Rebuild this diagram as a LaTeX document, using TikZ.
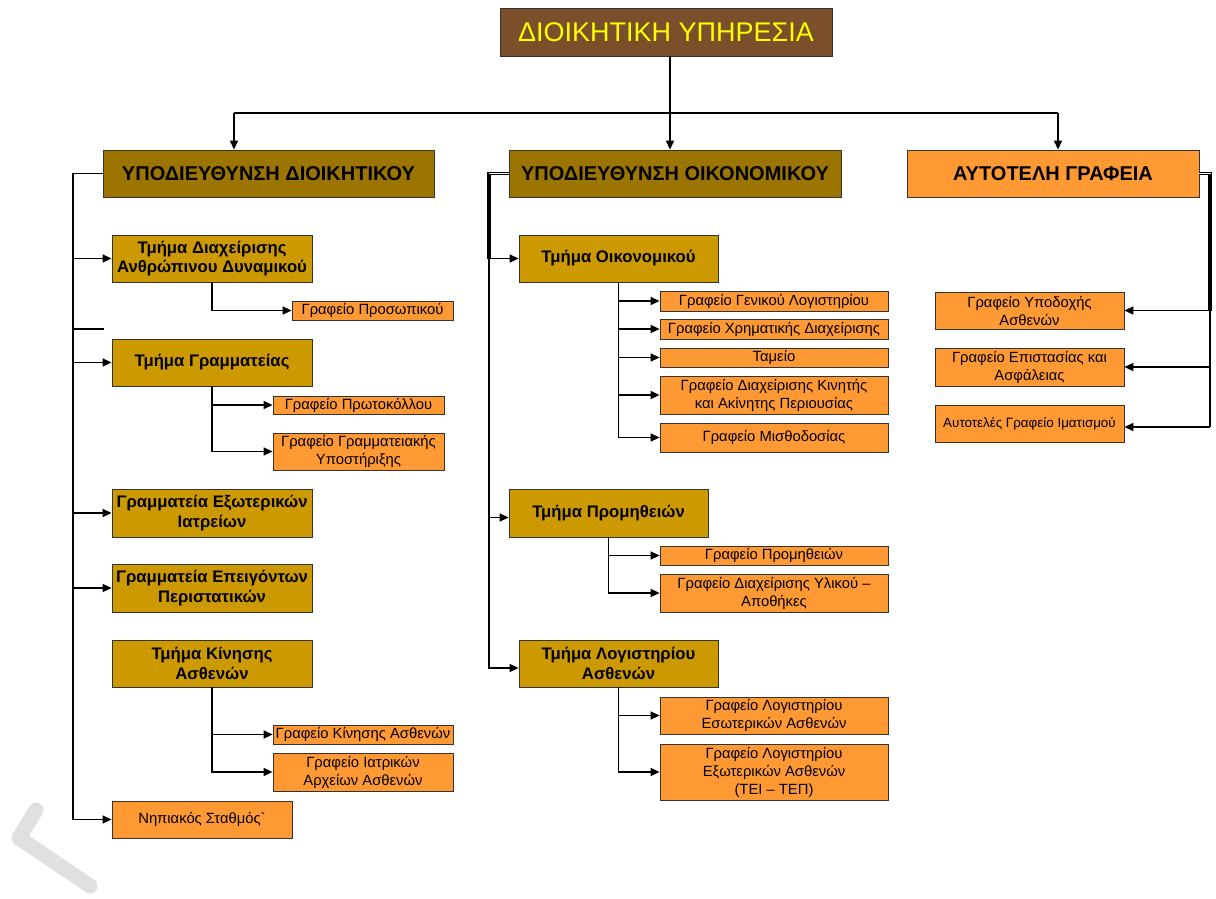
\documentclass[tikz,border=0pt]{standalone}
\usepackage{fontspec}
\setmainfont{Liberation Sans}
\usepackage{xcolor}
\usepackage{tikz}
\usetikzlibrary{shapes,arrows.meta,positioning}

\definecolor{headbrown}{HTML}{7A4F2A}
\definecolor{headyellow}{HTML}{FFFF00}
\definecolor{subgold}{HTML}{9C7400}
\definecolor{deptgold}{HTML}{CC9900}
\definecolor{officeorange}{HTML}{FF9933}
\definecolor{linegray}{HTML}{333333}

\begin{document}
\begin{tikzpicture}[
  x=1pt, y=-1pt,
  head/.style={rectangle, draw=linegray, fill=headbrown, text=headyellow, inner sep=0pt, minimum width=332pt, minimum height=48pt, font=\fontsize{27}{32}\selectfont},
  subdir/.style={rectangle, draw=linegray, line width=0.8pt, fill=subgold, inner sep=0pt, minimum width=331pt, minimum height=47pt, font=\bfseries\fontsize{20}{24}\selectfont},
  dept/.style={rectangle, draw=linegray, line width=0.8pt, fill=deptgold, inner sep=0pt, align=center, minimum width=200pt, minimum height=47pt, font=\bfseries\fontsize{16.7}{19.5}\selectfont},
  office/.style={rectangle, draw=linegray, line width=0.8pt, fill=officeorange, inner sep=0pt, align=center, font=\fontsize{14.8}{18}\selectfont},
  link/.style={line width=1.4pt},
  arrow/.style={line width=1.4pt, -{Triangle[length=9pt,width=8pt]}}
]
\useasboundingbox (0,0) rectangle (1216,899);

% Watermark
\draw [black!12, line width=15pt, line join=round, line cap=round] (36,810) -- (19,838) -- (90,886);

% Head
\node (admin) [head] at (666,32) {ΔΙΟΙΚΗΤΙΚΗ ΥΠΗΡΕΣΙΑ};

% Sub-directorates
\node (subAdm) [subdir] at (268.5,173.5) {ΥΠΟΔΙΕΥΘΥΝΣΗ ΔΙΟΙΚΗΤΙΚΟΥ};
\node (subFin) [subdir, minimum width=332pt] at (675,173.5) {ΥΠΟΔΙΕΥΘΥΝΣΗ ΟΙΚΟΝΟΜΙΚΟΥ};
\node (indep) [subdir, fill=officeorange, minimum width=292pt] at (1053,173.5) {ΑΥΤΟΤΕΛΗ ΓΡΑΦΕΙΑ};

% Administrative departments
\node (hr) [dept] at (212,258.5) {Τμήμα Διαχείρισης\\Ανθρώπινου Δυναμικού};
\node (secr) [dept] at (212,362.5) {Τμήμα Γραμματείας};
\node (outpat) [dept, minimum height=48pt] at (212,513) {Γραμματεία Εξωτερικών\\Ιατρείων};
\node (emerg) [dept, minimum height=48pt] at (212,588) {Γραμματεία Επειγόντων\\Περιστατικών};
\node (moves) [dept] at (212,663.5) {Τμήμα Κίνησης\\Ασθενών};
\node (nursery) [office, minimum width=180pt, minimum height=37pt] at (202,819.5) {Νηπιακός Σταθμός\textasciigrave};

% Administrative offices
\node (personnel) [office, minimum width=161pt, minimum height=19pt] at (372.5,310.5) {Γραφείο Προσωπικού};
\node (protocol) [office, minimum width=171pt, minimum height=18pt] at (358.5,405) {Γραφείο Πρωτοκόλλου};
\node (support) [office, minimum width=171pt, minimum height=37pt] at (358.5,451.5) {Γραφείο Γραμματειακής\\Υποστήριξης};
\node (moveOff) [office, minimum width=180pt, minimum height=19pt] at (363,734.5) {Γραφείο Κίνησης Ασθενών};
\node (records) [office, minimum width=180pt, minimum height=38pt] at (363,772) {Γραφείο Ιατρικών\\Αρχείων Ασθενών};

% Financial departments
\node (fin) [dept, minimum width=199pt] at (618.5,258.5) {Τμήμα Οικονομικού};
\node (supply) [dept, minimum width=199pt, minimum height=48pt] at (608.5,513) {Τμήμα Προμηθειών};
\node (billing) [dept, minimum width=199pt] at (618.5,663.5) {Τμήμα Λογιστηρίου\\Ασθενών};

% Financial offices
\node (genAcc) [office, minimum width=228pt, minimum height=20pt] at (774,301) {Γραφείο Γενικού Λογιστηρίου};
\node (cashMgmt) [office, minimum width=228pt, minimum height=20pt] at (774,329) {Γραφείο Χρηματικής Διαχείρισης};
\node (treasury) [office, minimum width=228pt, minimum height=19pt] at (774,357.5) {Ταμείο};
\node (property) [office, minimum width=228pt, minimum height=38pt] at (774,395) {Γραφείο Διαχείρισης Κινητής\\και Ακίνητης Περιουσίας};
\node (payroll) [office, minimum width=228pt, minimum height=29pt] at (774,437.5) {Γραφείο Μισθοδοσίας};
\node (supOff) [office, minimum width=228pt, minimum height=19pt] at (774,555.5) {Γραφείο Προμηθειών};
\node (stores) [office, minimum width=228pt, minimum height=38pt] at (774,593) {Γραφείο Διαχείρισης Υλικού –\\Αποθήκες};
\node (inBill) [office, minimum width=228pt, minimum height=37pt] at (774,715.5) {Γραφείο Λογιστηρίου\\Εσωτερικών Ασθενών};
\node (outBill) [office, minimum width=228pt, minimum height=56pt] at (774,772) {Γραφείο Λογιστηρίου\\Εξωτερικών Ασθενών\\(ΤΕΙ – ΤΕΠ)};

% Independent offices
\node (reception) [office, minimum width=189pt, minimum height=37pt] at (1029.5,310.5) {Γραφείο Υποδοχής\\Ασθενών};
\node (security) [office, minimum width=189pt, minimum height=38pt] at (1029.5,367) {Γραφείο Επιστασίας και\\Ασφάλειας};
\node (linen) [office, minimum width=189pt, minimum height=37pt, font=\fontsize{13.4}{16}\selectfont] at (1029.5,423.5) {Αυτοτελές Γραφείο Ιματισμού};

% Bus below the head
\coordinate (busL) at (234,113);
\coordinate (busM) at (670,113);
\coordinate (busR) at (1058,113);
\draw [link] (busL) -- (busR);
\draw [arrow] (admin.south -| busM) -- (busM |- subFin.north);
\draw [arrow] (busL) -- (busL |- subAdm.north);
\draw [arrow] (busR) -- (busR |- indep.north);

% Administrative trunk
\coordinate (trunkL) at (73,173.5);
\coordinate (stub) at (104,329);
\draw [arrow] (subAdm.west) -- (trunkL) |- (nursery.west);
\draw [link] (stub -| trunkL) -- (stub);
\foreach \n in {hr,secr,outpat,emerg}
  \draw [arrow] (trunkL |- \n.west) -- (\n.west);
\draw [arrow] (hr.south) |- (personnel.west);
\draw [arrow] (secr.south) |- (protocol.west);
\draw [arrow] (secr.south) |- (support.west);
\draw [arrow] (moves.south) |- (moveOff.west);
\draw [arrow] (moves.south) |- (records.west);

% Financial trunk
\coordinate (trunkM) at (489,173.5);
\draw [link, double, double distance=1pt] (subFin.west) -- (trunkM) -- (trunkM |- fin.west);
\draw [arrow] (trunkM) |- ([yshift=-4.5pt]billing.west);
\draw [arrow] (trunkM |- fin.west) -- (fin.west);
\draw [arrow] (trunkM |- supply.west) ++(0,4.5) -- ([yshift=-4.5pt]supply.west);
\foreach \n in {genAcc,cashMgmt,treasury,property,payroll}
  \draw [arrow] (fin.south) |- (\n.west);
\foreach \n in {supOff,stores}
  \draw [arrow] (supply.south) |- (\n.west);
\foreach \n in {inBill,outBill}
  \draw [arrow] (billing.south) |- (\n.west);

% Independent trunk
\coordinate (trunkR) at (1210,173.5);
\draw [link, double, double distance=1pt] (indep.east) -- (trunkR) -- (trunkR |- reception.east);
\draw [link] (trunkR) -- ([yshift=-3.5pt]trunkR |- linen.east);
\draw [arrow] (trunkR |- reception.east) -- (reception.east);
\draw [arrow] (trunkR |- security.east) -- (security.east);
\draw [arrow] ([yshift=-3.5pt]trunkR |- linen.east) -- ([yshift=-3.5pt]linen.east);

\end{tikzpicture}
\end{document}
